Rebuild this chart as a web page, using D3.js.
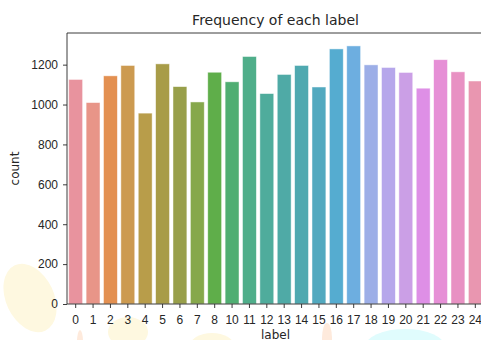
<!DOCTYPE html>
<html>
<head>
<meta charset="utf-8">
<script src="https://cdn.jsdelivr.net/npm/d3@7"></script>
<style>
  body { margin: 0; background: #fff; }
  svg { display: block; font-family: "DejaVu Sans", sans-serif; }
  .tick text { font-size: 12px; fill: #262626; }
  .tick line { stroke: #262626; stroke-width: 0.9; }
</style>
</head>
<body>
<div id="chart"></div>
<script>
// categories (label 9 absent in the data)
const labels = ['0', '1', '2', '3', '4', '5', '6', '7', '8', '10', '11', '12',
  '13', '14', '15', '16', '17', '18', '19', '20', '21', '22', '23', '24'];
const counts = [1126, 1010, 1144, 1196, 957, 1204, 1090, 1013, 1162, 1114, 1241, 1055,
  1151, 1196, 1088, 1279, 1294, 1199, 1186, 1161, 1082, 1225, 1164, 1118];
const barColors = ['#e8939e', '#e89588', '#e39051', '#cc9a50', '#b89d4a', '#a89c48',
  '#989f4a', '#86a84b', '#5fae4a', '#4fae72', '#4fae8a', '#4fac9c',
  '#4faaa6', '#4fa9b0', '#52a9bf', '#55acd0', '#6daee0', '#9caee7',
  '#b6a7eb', '#cb9fe6', '#de8fe6', '#e68fd6', '#e891c3', '#e996b0'];
const yTicks = [0, 200, 400, 600, 800, 1000, 1200];

const W = 481, H = 340;
const margin = { left: 67, top: 33, bottom: 36 };
const plotW = 417;
const plotH = H - margin.top - margin.bottom;

const svg = d3.select('#chart').append('svg')
  .attr('width', W)
  .attr('height', H);

// faint background blobs in the original image
const blobs = svg.append('g').attr('class', 'blobs');
blobs.append('ellipse').attr('cx', 30).attr('cy', 298).attr('rx', 24).attr('ry', 36)
  .attr('transform', 'rotate(-25 30 298)').attr('fill', '#fef8e0');
blobs.append('ellipse').attr('cx', 128).attr('cy', 332).attr('rx', 20).attr('ry', 15)
  .attr('fill', '#fef8e0');
blobs.append('ellipse').attr('cx', 212).attr('cy', 346).attr('rx', 22).attr('ry', 13)
  .attr('fill', '#fef8e0');
blobs.append('ellipse').attr('cx', 80).attr('cy', 342).attr('rx', 3).attr('ry', 12)
  .attr('fill', '#feeadc');
blobs.append('ellipse').attr('cx', 327).attr('cy', 338).attr('rx', 5).attr('ry', 15)
  .attr('fill', '#feeadc');
blobs.append('ellipse').attr('cx', 405).attr('cy', 347).attr('rx', 40).attr('ry', 18)
  .attr('fill', '#e0fcfd');

const g = svg.append('g')
  .attr('transform', 'translate(' + margin.left + ',' + margin.top + ')');

const x = d3.scaleBand()
  .domain(labels)
  .range([0, plotW])
  .paddingInner(0.2)
  .paddingOuter(0.1);

const y = d3.scaleLinear()
  .domain([0, d3.max(counts) * 1.05])
  .range([plotH, 0]);

g.selectAll('.bar')
  .data(counts)
  .enter()
  .append('rect')
  .attr('class', 'bar')
  .attr('x', (d, i) => x(labels[i]))
  .attr('y', d => y(d))
  .attr('width', x.bandwidth())
  .attr('height', d => plotH - y(d))
  .attr('fill', (d, i) => barColors[i])
  .attr('stroke', '#fff')
  .attr('stroke-opacity', 0.6)
  .attr('stroke-width', 0.8);

// axes
g.append('g')
  .attr('transform', 'translate(0,' + plotH + ')')
  .call(d3.axisBottom(x).tickSize(4).tickPadding(7.5))
  .call(a => a.select('.domain').remove());

g.append('g')
  .call(d3.axisLeft(y).tickValues(yTicks).tickFormat(d3.format('d')).tickSize(4).tickPadding(5))
  .call(a => a.select('.domain').remove());

// spines
[[0, 0, 0, plotH], [0, 0, plotW, 0], [0, plotH, plotW, plotH], [plotW, 0, plotW, plotH]]
  .forEach(([x1, y1, x2, y2]) => {
    g.append('line')
      .attr('x1', x1).attr('y1', y1).attr('x2', x2).attr('y2', y2)
      .attr('stroke', '#262626').attr('stroke-width', 0.9);
  });

// title and axis labels
g.append('text')
  .attr('x', plotW / 2)
  .attr('y', -8)
  .attr('text-anchor', 'middle')
  .attr('font-size', 14)
  .attr('fill', '#262626')
  .text('Frequency of each label');

g.append('text')
  .attr('x', plotW / 2)
  .attr('y', plotH + 35)
  .attr('text-anchor', 'middle')
  .attr('font-size', 12)
  .attr('fill', '#262626')
  .text('label');

g.append('text')
  .attr('transform', 'translate(' + (-48.5) + ',' + (plotH / 2) + ') rotate(-90)')
  .attr('text-anchor', 'middle')
  .attr('font-size', 12)
  .attr('fill', '#262626')
  .text('count');
</script>
</body>
</html>
